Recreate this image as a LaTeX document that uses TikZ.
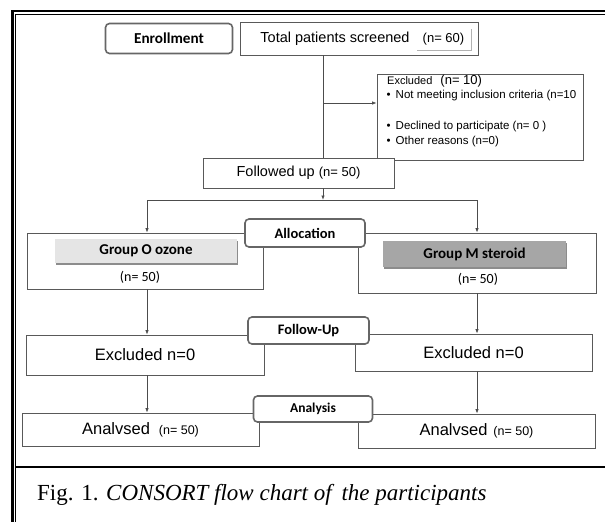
\documentclass[tikz,border=0pt]{standalone}
\usepackage{fontspec}
\setmainfont{Liberation Sans}
\newfontfamily\calfont{Carlito}
\newfontfamily\capfont{Liberation Serif}
\usetikzlibrary{arrows.meta,shadows}

\begin{document}
\begin{tikzpicture}[x=1pt,y=-1pt,
  box/.style={draw=black!65,line width=0.8pt,fill=white,inner sep=0pt},
  tag/.style={draw=black!60,line width=1.6pt,rounded corners=4pt,fill=white,inner sep=0pt,
    font=\calfont\bfseries\fontsize{14.5}{16}\selectfont},
  bar/.style={inner sep=0pt,font=\calfont\bfseries\fontsize{15}{17}\selectfont,
    drop shadow={shadow xshift=1pt,shadow yshift=-1.5pt,fill=black!45,opacity=1}},
  link/.style={draw=black!70,line width=0.8pt},
  arr/.style={link,-{Latex[length=4.5pt,width=3.5pt]}},
  txtbig/.style={font=\fontsize{16.5}{19}\selectfont},
  txtmid/.style={font=\fontsize{14.5}{17}\selectfont},
  grpn/.style={inner sep=0pt,font=\calfont\fontsize{14}{16}\selectfont},
  note/.style={anchor=west,inner sep=0pt,font=\fontsize{11.5}{14}\selectfont}]
\useasboundingbox (0,0) rectangle (605,522);
\clip (0,0) rectangle (605,522);

% frame
\draw[line width=2.5pt] (620,10.8) -- (12.5,10.8) -- (12.5,540);
\draw[line width=1pt] (620,14.2) -- (15.6,14.2) -- (15.6,540);
\draw[line width=1.5pt] (15.6,467) -- (620,467);

% enrollment
\node[tag,minimum width=127pt,minimum height=30pt,font=\calfont\bfseries\fontsize{15.2}{17}\selectfont] (enroll) at (169,38.5) {Enrollment};
\node[box,minimum width=238pt,minimum height=33pt] (screened) at (359,38.5) {};
\node[txtmid,inner sep=0pt] (screenedtxt) at (335,38.5) {Total patients screened};
\node[fill=white,inner sep=0pt,minimum width=55pt,minimum height=22pt,
  font=\fontsize{13}{15}\selectfont,
  drop shadow={shadow xshift=1.2pt,shadow yshift=-1.2pt,fill=black!30,opacity=1}] (nscreen) at (443.5,39) {(n= 60)};
\coordinate (trunk) at (323,103);

\node[box,minimum width=206pt,minimum height=86pt] (excl) at (480,117) {};
\node[note] (exclhead) at (387,81) {{\fontsize{11}{13}\selectfont Excluded}\hspace{8pt}{\fontsize{13}{15}\selectfont(n= 10)}};
\node[note] (excla) at (386.5,96) {\textbullet\hspace{5pt}Not meeting inclusion criteria (n=10};
\node[note] (exclb) at (386.5,127) {\textbullet\hspace{5pt}Declined to participate (n= 0 )};
\node[note] (exclc) at (386.5,142) {\textbullet\hspace{5pt}Other reasons (n=0)};

\node[box,minimum width=191pt,minimum height=30pt,txtmid] (followed) at (298.5,173)
  {Followed up\hspace{4pt}{\fontsize{13}{15}\selectfont(n= 50)}};

\draw[link] (screened.south -| trunk) -- (followed.north -| trunk);
\draw[arr] (trunk) -- (excl.west |- trunk);

% allocation
\coordinate (split) at (323,200);
\coordinate (splitO) at (147,200);
\coordinate (splitM) at (477,200);
\node[box,minimum width=236pt,minimum height=56pt] (grpO) at (145,261) {};
\node[box,minimum width=238pt,minimum height=60pt] (grpM) at (477,263) {};
\node[bar,fill=black!10,minimum width=182pt,minimum height=24pt] (barO) at (146,251) {Group O ozone};
\node[bar,fill=black!35,minimum width=183pt,minimum height=26pt] (barM) at (474.5,254) {Group M steroid};
\node[grpn] (nO) at (140,277) {(n= 50)};
\node[grpn] (nM) at (478,279) {(n= 50)};
\node[tag,minimum width=120pt,minimum height=28pt] (alloc) at (305,233) {Allocation};

\draw[arr] (followed.south -| trunk) -- (split);
\draw[link] (splitO) -- (splitM);
\draw[arr] (splitO) -- (grpO.north -| splitO);
\draw[arr] (splitM) -- (grpM.north -| splitM);

% follow-up
\node[box,minimum width=238pt,minimum height=40pt,txtbig] (exclO) at (145,355) {Excluded n=0};
\node[box,minimum width=237pt,minimum height=37pt,txtbig] (exclM) at (473.5,352.5) {Excluded n=0};
\node[tag,minimum width=121pt,minimum height=27pt] (fup) at (308.5,330.5) {Follow-Up};
\draw[arr] (grpO.south -| splitO) -- (exclO.north -| splitO);
\draw[arr] (grpM.south -| splitM) -- (exclM.north -| splitM);

% analysis
\node[box,minimum width=237pt,minimum height=33pt,txtbig] (anaO) at (140.5,429.5)
  {Analvsed\hspace{9pt}{\fontsize{12.5}{15}\selectfont(n= 50)}};
\node[box,minimum width=237pt,minimum height=34pt,txtbig] (anaM) at (476.5,431)
  {Analvsed\hspace{6pt}{\fontsize{12.5}{15}\selectfont(n= 50)}};
\node[tag,minimum width=119pt,minimum height=26pt,font=\calfont\bfseries\fontsize{13.5}{15}\selectfont] (analysis) at (313,409) {Analysis};
\draw[arr] (exclO.south -| splitO) -- (anaO.north -| splitO);
\draw[arr] (exclM.south -| splitM) -- (anaM.north -| splitM);

% caption
\node[anchor=west,inner sep=0pt,font=\capfont\fontsize{23}{26}\selectfont] (caption) at (37,495)
  {Fig. 1. \textit{CONSORT flow chart of\hspace{4pt} the participants}};
\end{tikzpicture}
\end{document}
